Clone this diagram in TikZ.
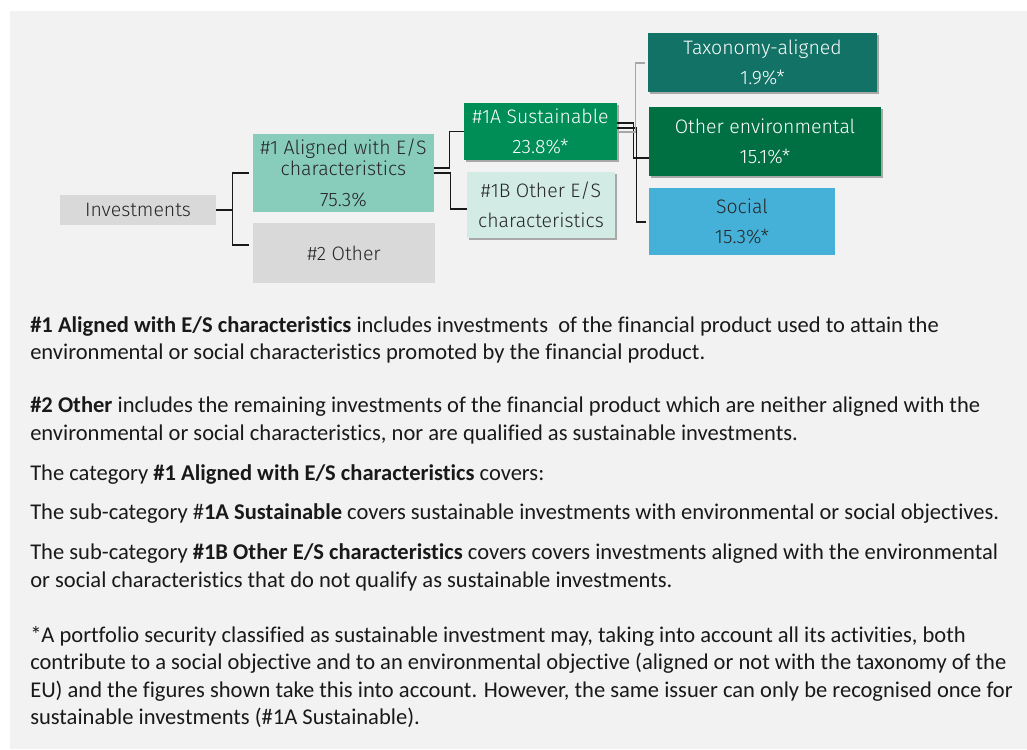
\documentclass[tikz,border=0pt]{standalone}
\usepackage{fontspec}
\setmainfont{Carlito}[Ligatures=NoCommon]
\newfontfamily\dg{Fira Sans Light}[Numbers=Lining]
\usetikzlibrary{calc,shadows}
\definecolor{bgc}{RGB}{242,242,242}
\definecolor{greyb}{RGB}{217,217,217}
\definecolor{alc}{RGB}{136,204,187}
\definecolor{sac}{RGB}{0,142,87}
\definecolor{obc}{RGB}{211,235,229}
\definecolor{taxc}{RGB}{17,114,101}
\definecolor{oec}{RGB}{0,111,66}
\definecolor{socc}{RGB}{69,177,216}
\definecolor{dtext}{RGB}{38,38,38}
\definecolor{conng}{RGB}{166,166,166}
\tikzset{
  box/.style={inner sep=0pt, align=center, text=dtext, font=\dg\fontsize{14.6}{22.5}\selectfont},
  wbox/.style={box, text=white},
  shad/.style={drop shadow={shadow xshift=1.5pt, shadow yshift=-1.8pt, opacity=0.3, fill=black}},
  conn/.style={draw=black!90, line width=1.1pt},
  conngray/.style={draw=conng, line width=1pt},
  txt/.style={anchor=base west, inner sep=0pt, font=\fontsize{16.9}{20}\selectfont, text=black!90}
}
\begin{document}
\begin{tikzpicture}[x=0.75pt,y=-0.75pt]
\useasboundingbox (0,0) rectangle (1027,749);
\fill[bgc] (10,11) rectangle (1027,749);
% boxes
\node[box, fill=greyb, minimum width=117pt, minimum height=22.5pt] (inv) at (138,210) {Investments};
\node[box, fill=alc, minimum width=135.75pt, minimum height=58.5pt, font=\dg\fontsize{14.6}{15.75}\selectfont] (a1) at (343.5,173) {\#1 Aligned with E/S\\characteristics\\[7pt]75.3\%};
\node[box, fill=greyb, minimum width=136.5pt, minimum height=45pt] (o2) at (344,253) {\#2 Other};
\node[wbox, fill=sac, shad, minimum width=114.75pt, minimum height=42.75pt] (s1a) at (540.5,131.5) {\#1A Sustainable\\23.8\%*};
\node[box, fill=obc, shad, minimum width=111pt, minimum height=49.5pt] (s1b) at (541,205) {\#1B Other E/S\\characteristics};
\node[wbox, fill=taxc, shad, minimum width=171.75pt, minimum height=44.25pt] (tax) at (762.5,62.5) {Taxonomy-aligned\\1.9\%*};
\node[wbox, fill=oec, shad, minimum width=174pt, minimum height=51.75pt] (oe) at (765,141.5) {Other environmental\\15.1\%*};
\node[box, fill=socc, minimum width=139.5pt, minimum height=50.25pt] (soc) at (742,221.5) {Social\\15.3\%*};
% connectors
\coordinate (j1) at ($(inv.east)+(16,0)$);
\draw[conn] (inv.east) -- (j1);
\draw[conn] ($(a1.west)+(-4,0)$) -| (j1) |- ($(o2.west)+(-4,-8)$);
\draw[conn] ($(a1.east)+(0,-5)$) -- ++(15,0) |- (s1a.west);
\draw[conn] ($(a1.east)+(0,0)$) -- ++(16,0) |- ($(s1b.west)+(0,4)$);
\draw[conn] ($(s1a.east)+(0,-8.5)$) -- ++(16,0) |- ($(oe.west)+(0,16.5)$);
\draw[conn] ($(s1a.east)+(0,-3.5)$) -- ++(19,0) |- ($(soc.west)+(-3,0.5)$);
\draw[conngray] ($(s1a.east)+(0,0.5)$) -- ++(18,0) |- ($(tax.west)+(-3,0.5)$);
% text
\node[txt] (l1) at (30,332) {\textbf{\#1 Aligned with E/S characteristics} includes investments \ of the financial product used to attain the};
\node[txt] (l2) at (30,359) {environmental or social characteristics promoted by the financial product.};
\node[txt] (l3) at (30,412) {\textbf{\#2 Other} includes the remaining investments of the financial product which are neither aligned with the};
\node[txt] (l4) at (30,440) {environmental or social characteristics, nor are qualified as sustainable investments.};
\node[txt] (l5) at (30,480) {The category \textbf{\#1 Aligned with E/S characteristics} covers:};
\node[txt] (l6) at (30,519) {The sub-category \#\textbf{1A Sustainable} covers sustainable investments with environmental or social objectives.};
\node[txt] (l7) at (30,559) {The sub-category \textbf{\#1B Other E/S characteristics} covers covers investments aligned with the environmental};
\node[txt] (l8) at (30,587) {or social characteristics that do not qualify as sustainable investments.};
\node[txt] (l9) at (30,642) {*A portfolio security classified as sustainable investment may, taking into account all its activities, both};
\node[txt] (l10) at (30,669) {contribute to a social objective and to an environmental objective (aligned or not with the taxonomy of the};
\node[txt] (l11) at (30,697) {EU) and the figures shown take this into account. However, the same issuer can only be recognised once for};
\node[txt] (l12) at (30,724) {sustainable investments (\#1A Sustainable).};
\end{tikzpicture}
\end{document}
